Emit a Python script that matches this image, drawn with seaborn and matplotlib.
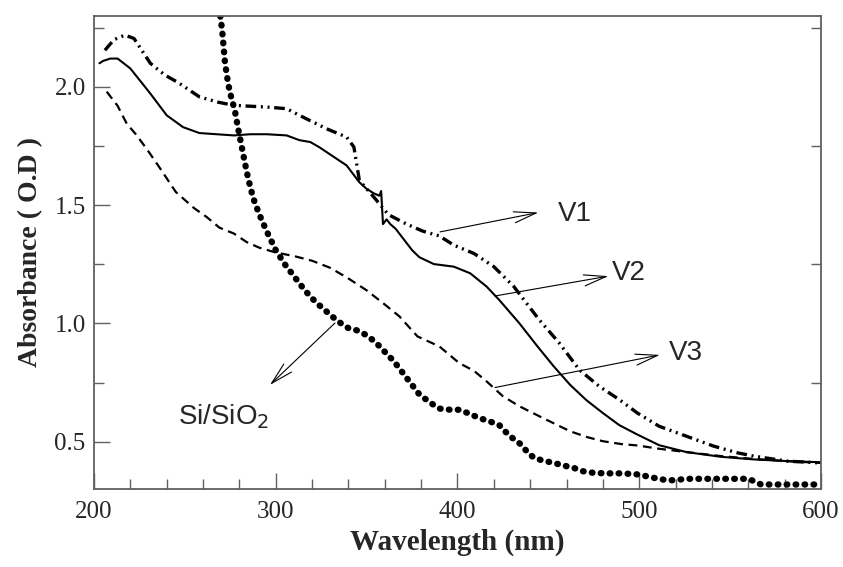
import numpy as np
import seaborn as sns
import matplotlib.pyplot as plt
from matplotlib.ticker import MultipleLocator

# Data
v1_nm = [206, 211, 217, 222, 231, 239, 246, 258, 268, 277, 295, 306, 313, 328, 339, 343,
         346, 354, 362, 372, 381, 390, 398, 409, 420, 431, 438, 445, 456, 467, 478, 489,
         499, 511, 526, 541, 554, 563, 581, 600]
v1_abs = [2.155, 2.20, 2.219, 2.205, 2.10, 2.05, 2.02, 1.958, 1.936, 1.922, 1.915, 1.908,
          1.88, 1.823, 1.788, 1.746, 1.605, 1.534, 1.46, 1.42, 1.39, 1.37, 1.331, 1.296,
          1.24, 1.156, 1.085, 1.015, 0.917, 0.804, 0.734, 0.678, 0.621, 0.565, 0.523,
          0.481, 0.453, 0.439, 0.418, 0.41]

v2_nm = [203, 205, 209, 213, 220, 231, 240, 249, 258, 277, 286, 295, 306, 313, 319, 324,
         339, 346, 350, 354, 357, 358, 359, 361, 363, 366, 370, 375, 379, 387, 398, 407,
         416, 423, 434, 444, 453, 462, 471, 480, 489, 499, 511, 526, 545, 563, 581, 600]
v2_abs = [2.10, 2.11, 2.12, 2.12, 2.078, 1.972, 1.88, 1.83, 1.805, 1.795, 1.80, 1.80,
          1.795, 1.775, 1.767, 1.745, 1.668, 1.597, 1.569, 1.55, 1.54, 1.56, 1.42, 1.44,
          1.42, 1.40, 1.36, 1.31, 1.28, 1.251, 1.24, 1.212, 1.156, 1.099, 1.001, 0.903,
          0.818, 0.740, 0.675, 0.621, 0.570, 0.53, 0.485, 0.456, 0.436, 0.425, 0.418, 0.413]

v3_nm = [207, 213, 218, 223, 229, 236, 245, 255, 262, 269, 277, 284, 291, 300, 310, 320,
         330, 340, 350, 360, 368, 378, 390, 401, 409, 416, 425, 434, 447, 462, 471, 480,
         490, 499, 511, 526, 545, 563, 581, 600]
v3_abs = [1.98, 1.92, 1.845, 1.80, 1.738, 1.66, 1.556, 1.488, 1.45, 1.405, 1.38, 1.344,
          1.32, 1.30, 1.285, 1.265, 1.235, 1.19, 1.14, 1.08, 1.03, 0.945, 0.903, 0.832,
          0.80, 0.755, 0.692, 0.65, 0.60, 0.544, 0.52, 0.502, 0.49, 0.484, 0.47, 0.456,
          0.439, 0.427, 0.418, 0.41]

sub_nm = [269.5, 270.5, 271.2, 272.1, 273.9, 275.7, 277.5, 279.4, 281.2, 283.0, 284.9,
          287.6, 291, 295, 300, 305, 310, 316, 322, 328, 334, 340, 345, 350, 355, 360,
          365, 370, 375, 379, 385, 390, 396, 401, 406, 412, 418, 423, 426, 429, 432, 435,
          438, 442, 447, 453, 458, 464, 469, 475, 482, 489, 495, 500, 506, 511, 515, 519,
          526, 535, 544, 553, 560, 564, 567, 575, 583, 591, 600]
sub_abs = [2.30, 2.24, 2.18, 2.10, 2.01, 1.95, 1.90, 1.82, 1.75, 1.68, 1.61, 1.53, 1.46,
           1.39, 1.31, 1.25, 1.20, 1.14, 1.09, 1.05, 1.01, 0.98, 0.97, 0.95, 0.92, 0.88,
           0.84, 0.79, 0.74, 0.70, 0.665, 0.64, 0.635, 0.635, 0.62, 0.60, 0.585, 0.57,
           0.545, 0.523, 0.505, 0.488, 0.46, 0.432, 0.42, 0.41, 0.40, 0.389, 0.375, 0.368,
           0.366, 0.366, 0.364, 0.361, 0.35, 0.343, 0.337, 0.337, 0.343, 0.343, 0.343,
           0.343, 0.343, 0.33, 0.319, 0.319, 0.319, 0.319, 0.319]

sns.set_style("ticks")
plt.rcParams['font.family'] = ['Liberation Serif', 'DejaVu Serif']

fig = plt.figure(figsize=(8.43, 5.67), dpi=100)
ax = fig.add_axes([0.1115, 0.1376, 0.8624, 0.8342])

sns.lineplot(x=v1_nm, y=v1_abs, ax=ax, color='black', lw=2.4,
             linestyle=(0, (3.2, 1.4, 0.6, 1.4, 0.6, 1.4)))
sns.lineplot(x=v2_nm, y=v2_abs, ax=ax, color='black', lw=1.5)
sns.lineplot(x=v3_nm, y=v3_abs, ax=ax, color='black', lw=1.6,
             linestyle=(0, (4.0, 2.5)))
sns.lineplot(x=sub_nm, y=sub_abs, ax=ax, color='black', lw=4.6,
             linestyle=(0, (0.1, 1.3)), dash_capstyle='round')

ax.set_xlim(200, 600)
ax.set_ylim(0.3, 2.3)
ax.xaxis.set_major_locator(MultipleLocator(100))
ax.xaxis.set_minor_locator(MultipleLocator(20))
ax.yaxis.set_major_locator(MultipleLocator(0.5))
ax.yaxis.set_minor_locator(MultipleLocator(0.25))
ax.yaxis.set_major_formatter(plt.FormatStrFormatter('%.1f'))

ax.tick_params(which='both', direction='in', color='#606060', width=1.0,
               labelsize=18, top=False)
ax.tick_params(which='major', length=11.5, right=False, pad=9)
ax.tick_params(which='minor', length=7, right=True)
ax.tick_params(axis='y', which='major', pad=6)
for sp in ax.spines.values():
    sp.set_color('#606060')
    sp.set_linewidth(1.3)

ax.set_xlabel('Wavelength (nm)', fontsize=21, fontweight='bold', labelpad=4)
ax.set_ylabel('Absorbance ( O.D )', fontsize=20, fontweight='bold', labelpad=8)

# annotations
arrow = dict(arrowstyle='->,head_length=1.6,head_width=0.4', lw=0.8, color='black',
             shrinkA=0, shrinkB=0)
ax.annotate('', xy=(444.5, 1.469), xytext=(390.4, 1.387), arrowprops=arrow)
ax.annotate('', xy=(483, 1.20), xytext=(420.6, 1.116), arrowprops=arrow)
ax.annotate('', xy=(511.4, 0.867), xytext=(420.6, 0.729), arrowprops=arrow)
ax.annotate('', xy=(296.8, 0.74), xytext=(332.6, 1.002), arrowprops=arrow)

lab = dict(fontsize=20, family='Liberation Sans', va='baseline', ha='left')
ax.text(455.5, 1.434, 'V1', **lab)
ax.text(484.8, 1.184, 'V2', **lab)
ax.text(516.5, 0.847, 'V3', **lab)
ax.text(246.2, 0.576, r'Si/SiO$_2$', **lab)

fig.savefig('out.png', dpi=100)
